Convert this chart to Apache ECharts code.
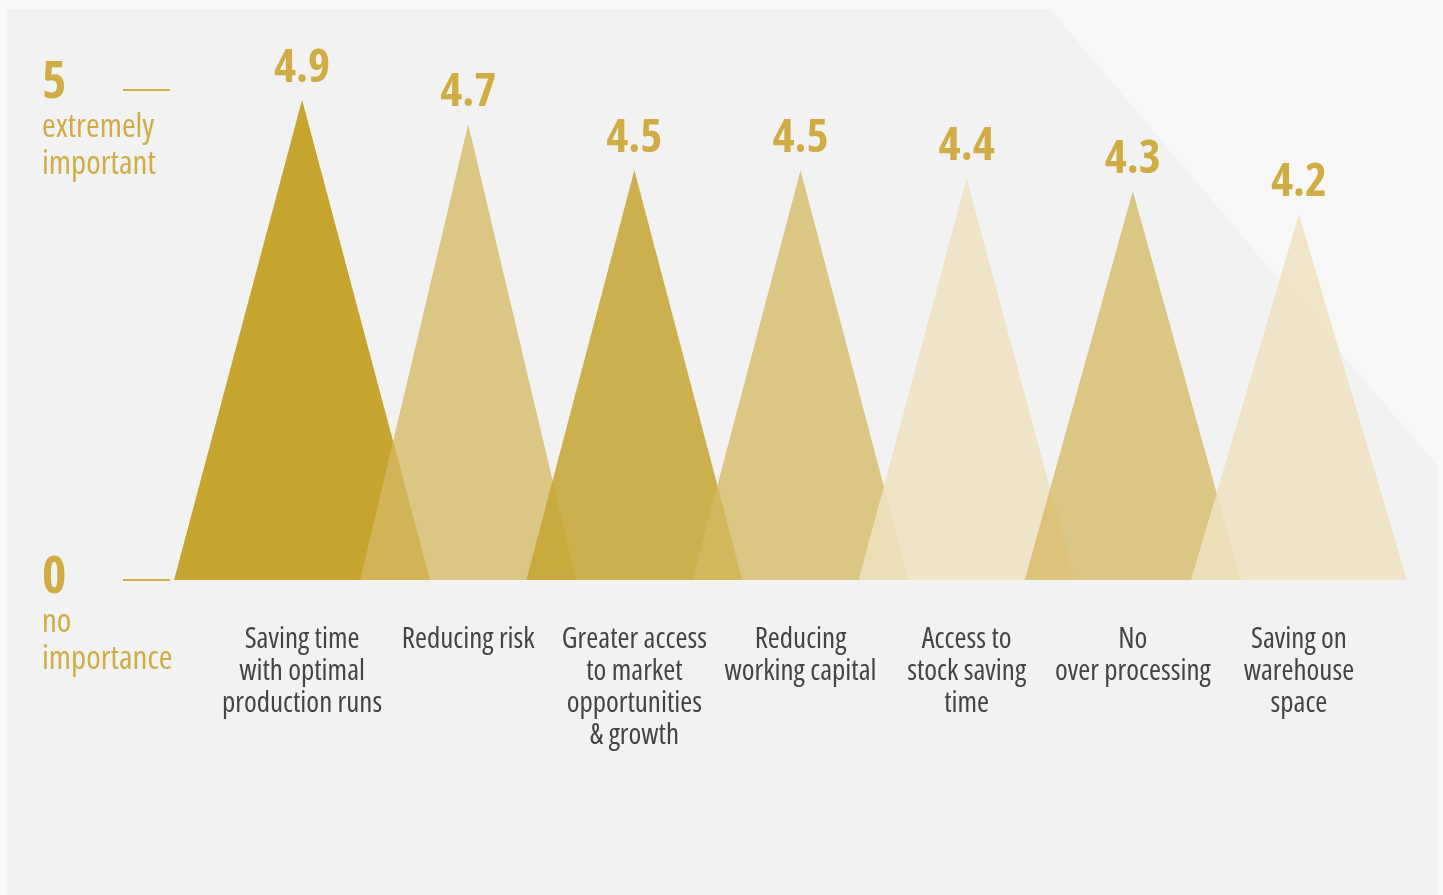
<!DOCTYPE html>
<html>
<head>
<meta charset="utf-8">
<script src="https://cdn.jsdelivr.net/npm/echarts@6/dist/echarts.min.js"></script>
<style>
  html, body { margin: 0; padding: 0; background: #f8f8f8; }
  #chart { width: 1443px; height: 895px; }
</style>
</head>
<body>
<div id="chart"></div>
<script>
// ---- data ----
const categories = [
  'Saving time\nwith optimal\nproduction runs',
  'Reducing risk',
  'Greater access\nto market\nopportunities\n& growth',
  'Reducing\nworking capital',
  'Access to\nstock saving\ntime',
  'No\nover processing',
  'Saving on\nwarehouse\nspace'
];
// scores printed above each peak
const scores = [4.9, 4.7, 4.5, 4.5, 4.4, 4.3, 4.2];
const peakHeights = [4.9, 4.65, 4.18, 4.18, 4.1, 3.97, 3.73];
const yTicks = [0, 5];
const yTickCaptions = ['no\nimportance', 'extremely\nimportant'];

// ---- styles (kept apart from data) ----
const FONT = '"Open Sans", "Roboto Condensed", sans-serif';
const STRETCH = 'condensed';
const GOLD_TEXT = '#d0ac45';
const triangleWidths = [256, 216, 216, 216, 216, 216, 216];
const triangleColors = [
  'rgba(198,164,48,1)',
  'rgba(214,185,98,0.77)',
  'rgba(198,164,48,0.85)',
  'rgba(214,185,98,0.77)',
  'rgba(238,226,191,0.85)',
  'rgba(214,185,98,0.77)',
  'rgba(238,226,191,0.85)'
];

const chart = echarts.init(document.getElementById('chart'), null, { renderer: 'canvas' });

const seriesData = peakHeights.map((h, i) => ({
  value: h,
  symbolSize: [triangleWidths[i], '100%'],
  itemStyle: { color: triangleColors[i] }
}));

const option = {
  backgroundColor: '#f8f8f8',
  animation: false,
  graphic: [
    { type: 'rect', z: -10, silent: true,
      shape: { x: 7, y: 9, width: 1430, height: 886 },
      style: { fill: '#f2f2f2' } },
    { type: 'polygon', z: -9, silent: true,
      shape: { points: [[1050, 9], [1437, 9], [1437, 466]] },
      style: { fill: '#f7f7f7' } },
    { type: 'text', z: 10, left: 42, top: 109,
      style: { text: yTickCaptions[1], font: STRETCH + ' 33px ' + FONT, fill: GOLD_TEXT, lineHeight: 37 } },
    { type: 'text', z: 10, left: 42, top: 604,
      style: { text: yTickCaptions[0], font: STRETCH + ' 33px ' + FONT, fill: GOLD_TEXT, lineHeight: 37 } }
  ],
  grid: { left: 219, right: 61, top: 90, bottom: 315, containLabel: false },
  xAxis: {
    type: 'category',
    data: categories,
    axisLine: { show: false },
    axisTick: { show: false },
    axisLabel: {
      interval: 0,
      margin: 44,
      color: '#444444',
      fontStyle: STRETCH,
      fontFamily: FONT,
      fontSize: 29,
      lineHeight: 32,
      align: 'center'
    }
  },
  yAxis: {
    type: 'value',
    min: 0,
    max: 5,
    interval: 5,
    offset: 49,
    splitLine: { show: false },
    axisLine: { show: false },
    axisTick: { show: true, length: 47, lineStyle: { color: '#d4b04a', width: 2 } },
    axisLabel: {
      align: 'left',
      margin: 128,
      formatter: v => (v === yTicks[1] ? '{a|' + v + '}' : '{b|' + v + '}'),
      rich: {
        a: { fontFamily: FONT, fontStyle: STRETCH, fontWeight: 'bold', fontSize: 52, color: GOLD_TEXT, padding: [0, 0, 14, 0] },
        b: { fontFamily: FONT, fontStyle: STRETCH, fontWeight: 'bold', fontSize: 52, color: GOLD_TEXT, padding: [0, 0, 4, 0] }
      }
    }
  },
  series: [{
    type: 'pictorialBar',
    symbol: 'triangle',
    symbolPosition: 'start',
    clip: false,
    data: seriesData,
    label: {
      show: true,
      position: 'top',
      distance: 8,
      formatter: p => scores[p.dataIndex].toFixed(1),
      fontFamily: FONT,
      fontStyle: STRETCH,
      fontWeight: 'bold',
      fontSize: 47,
      color: GOLD_TEXT
    }
  }]
};
chart.setOption(option);
</script>
</body>
</html>
